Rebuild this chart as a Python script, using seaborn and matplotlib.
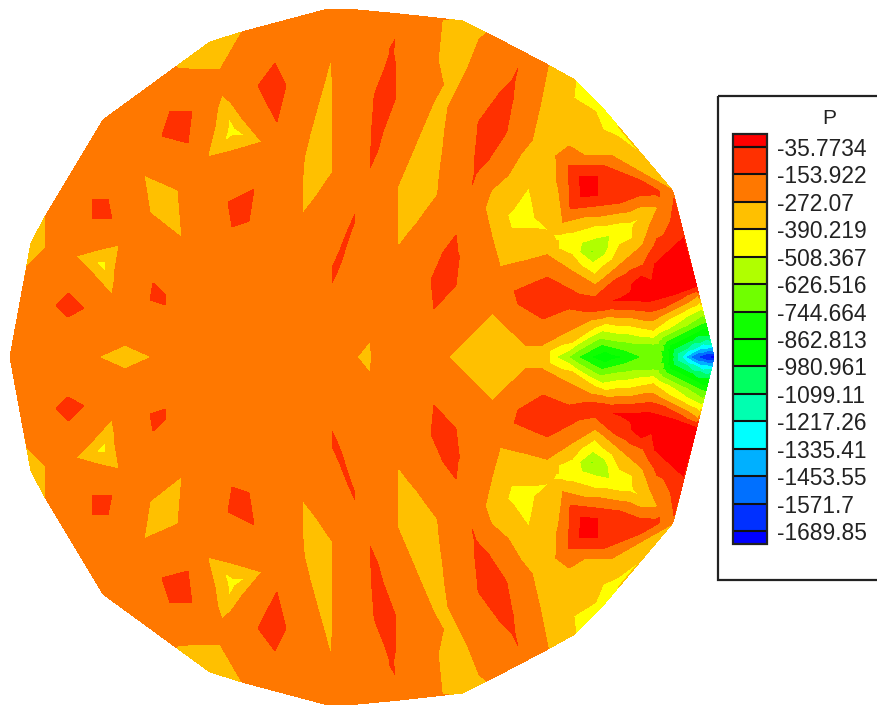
#!/usr/bin/env python3
# Pressure field P on a disk, filled contour bands with a boxed colour legend.
# Nodes are (x, y, P) for the upper half, the field is
# symmetric about y = 357 so the lower half is mirrored.

import matplotlib
matplotlib.use("Agg")
import matplotlib.pyplot as plt
from matplotlib.patches import Rectangle
from matplotlib.tri import Triangulation
import numpy as np
import seaborn as sns

# ── Legend ─────────────────────────────────────
tick_labels = ["-1689.85", "-1571.7", "-1453.55", "-1335.41", "-1217.26",
               "-1099.11", "-980.961", "-862.813", "-744.664", "-626.516",
               "-508.367", "-390.219", "-272.07", "-153.922", "-35.7734"]
levels = [float(t) for t in tick_labels]
band_colors = ["#0000ff", "#0030ff", "#0070ff", "#00b0ff", "#00ffff",
               "#00ffb0", "#00ff60", "#00ff00", "#10ff00", "#70ff00",
               "#b0ff00", "#ffff00", "#ffc000", "#ff7800", "#ff3000",
               "#ff0000"]

# ── Field nodes (x, y, P) ──────────────────────
rim = [(10, 357, -210), (27, 267, -210), (46, 215, -210), (103, 120, -210),
       (177, 68, -210), (242, 32, -210), (328, 9, -210), (358, 10, -210),
       (400, 14, -210), (442, 19, -210), (548, 65, -210), (673, 192, -210),
       (200, 357, -210), (280, 300, -210), (400, 300, -210)]

rim_amber_top = [(177, 68, -272), (210, 42, -300), (242, 32, -272),
                 (198, 70, -272), (220, 70, -272), (208, 58, -290)]
rim_amber_left = [(27, 267, -272), (31, 243, -300), (46, 215, -272),
                  (46, 248, -272), (38, 245, -290)]

red_a = [(170, 111, -154), (192, 111, -154), (188, 143, -154), (162, 136, -154),
         (178, 125, -110)]
red_b = [(275, 63, -154), (286, 86, -154), (277, 122, -154), (258, 86, -154),
         (272, 90, -110)]
red_c = [(92, 199, -154), (108, 199, -154), (112, 219, -154), (92, 219, -154),
         (101, 209, -110)]
red_d = [(254, 189, -154), (228, 202, -154), (232, 227, -154), (249, 221, -154),
         (241, 208, -110)]
red_e = [(68, 293, -154), (84, 308, -154), (68, 317, -154), (56, 306, -154),
         (69, 306, -110)]
red_f = [(153, 283, -154), (166, 295, -154), (166, 305, -154), (150, 300, -154),
         (159, 297, -120)]
red_g = [(456, 235, -154), (456, 285, -154), (434, 309, -154), (431, 280, -154),
         (447, 275, -110), (451, 255, -130), (440, 295, -130)]
red_h = [(395, 39, -154), (396, 68, -154), (396, 97, -154), (383, 132, -154),
         (378, 150, -154), (370, 168, -154), (371, 145, -154), (372, 123, -154),
         (374, 95, -154), (385, 67, -154), (392, 52, -150), (391, 68, -150),
         (385, 96, -150), (378, 127, -150), (374, 148, -150)]
red_i = [(518, 68, -154), (513, 100, -154), (507, 132, -154), (490, 158, -154),
         (472, 185, -154), (475, 153, -154), (478, 122, -154), (498, 95, -154),
         (514, 80, -150), (505, 97, -150), (492, 127, -150), (482, 155, -150),
         (476, 172, -150)]
red_j = [(363, 195, -154), (351, 232, -154), (345, 250, -154), (343, 257, -154),
         (338, 270, -154), (332, 283, -154), (332, 268, -154), (340, 250, -154),
         (347, 232, -154), (355, 214, -154), (353, 222, -150), (349, 232, -150),
         (342, 250, -150), (339, 260, -150), (335, 268, -150), (334, 276, -150)]

amber_a = [(144, 175, -272), (178, 190, -272), (182, 238, -272), (150, 213, -272),
           (165, 205, -300)]
amber_b = [(331, 59, -272), (333, 88, -272), (333, 108, -272), (333, 130, -272),
           (333, 150, -272), (333, 172, -272), (318, 194, -272), (302, 215, -272),
           (302, 188, -272), (303, 172, -272), (304, 158, -272), (310, 133, -272),
           (317, 108, -272), (325, 80, -272), (330, 68, -276), (329, 84, -276),
           (325, 108, -276), (322, 132, -276), (318, 154, -276), (318, 172, -276),
           (310, 191, -276), (304, 205, -276)]
amber_c = [(442, 19, -272), (438, 60, -272), (433, 103, -272), (424, 124, -272),
           (415, 145, -272), (406, 166, -272), (397, 187, -272), (397, 217, -272),
           (398, 247, -272), (418, 222, -272), (438, 195, -272), (440, 172, -272),
           (443, 150, -272), (445, 130, -272), (448, 108, -272), (467, 70, -272),
           (487, 33, -272), (463, 21, -290), (450, 25, -276), (478, 38, -276),
           (452, 45, -276), (452, 65, -276), (445, 85, -276), (440, 105, -276),
           (435, 127, -276), (429, 148, -276), (423, 169, -276), (417, 191, -276),
           (407, 220, -276), (403, 238, -276)]
amber_d = [(98, 357, -272), (125, 345, -272), (152, 357, -272), (125, 357, -300)]
amber_e = [(357, 357, -272), (370, 341, -272), (370, 357, -300), (373, 357, -250)]
amber_f = [(448, 357, -272), (492, 313, -272), (542, 345, -272), (497, 357, -300),
           (520, 357, -320), (540, 357, -345)]

tri_a = [(222, 95, -272), (242, 118, -272), (262, 142, -272), (235, 150, -272),
         (208, 157, -272), (215, 126, -272), (224, 106, -300), (252, 139, -300),
         (214, 152, -300),
         (229, 117, -389), (245, 135, -389), (224, 142, -389), (232, 131, -430)]
tri_b = [(76, 256, -272), (97, 250, -272), (119, 245, -272), (115, 270, -272),
         (114, 283, -272), (112, 295, -272), (103, 285, -272), (94, 275, -272),
         (83, 257, -300), (115, 251, -300), (109, 284, -300), (106, 278, -320),
         (96, 262, -389), (106, 261, -389), (106, 272, -389), (102, 265, -420)]

# upper right: amber field, yellow rim strip, red pocket, lime triangle
right_amber = [(548, 65, -271), (540, 105, -271), (532, 140, -271), (508, 175, -271),
               (485, 208, -271), (492, 238, -271), (500, 267, -271), (525, 261, -271),
               (547, 255, -271), (570, 270, -271), (595, 285, -271), (620, 265, -271),
               (643, 245, -271), (650, 225, -271), (658, 207, -271)]
right_amber_fill = [(555, 110, -340), (590, 120, -340), (540, 170, -340),
                    (510, 250, -340), (545, 245, -340), (530, 165, -340),
                    (550, 145, -340), (570, 135, -340), (550, 180, -340),
                    (500, 200, -340), (505, 240, -340)]
yellow_strip = [(575, 80, -389), (573, 98, -389), (603, 130, -389), (642, 155, -389),
                (600, 105, -430), (620, 130, -430), (560, 72, -340)]
yellow_tri = [(529, 186, -389), (550, 231, -389), (511, 229, -389), (507, 215, -389),
              (525, 215, -430)]
pocket = [(556, 156, -271), (585, 156, -271), (612, 156, -271), (640, 172, -271),
          (672, 190, -271), (559, 190, -271), (563, 222, -271), (600, 216, -271),
          (630, 211, -271)]
pocket_red = [(568, 165, -155), (603, 165, -155), (640, 180, -155), (673, 193, -155),
              (660, 197, -155), (620, 203, -155), (570, 209, -155), (569, 187, -155),
              (640, 190, -100), (655, 191, -120),
              (579, 176, -36), (588, 176, -36), (597, 176, -36), (598, 186, -36),
              (598, 195, -36), (590, 196, -36), (581, 197, -36), (580, 186, -36),
              (583, 180, -20), (593, 180, -20), (594, 191, -20), (585, 192, -20),
              (589, 186, -20)]
lime_tri = [(552, 234, -389), (597, 225, -389), (642, 217, -389), (620, 245, -389),
            (595, 275, -389), (572, 255, -389),
            (562, 237, -420), (630, 225, -420), (594, 268, -450),
            (570, 243, -507), (623, 232, -507), (593, 263, -507),
            (582, 243, -515), (609, 236, -515),
            (592, 252, -640), (587, 250, -626), (597, 250, -626)]

# lower red patch that runs to the rim
patch = [(514, 291, -155), (547, 277, -155), (595, 297, -155), (643, 265, -155),
         (674, 198, -155), (543, 319, -155), (587, 312, -155), (650, 312, -155),
         (697, 291, -155), (570, 298, -100), (530, 300, -100), (650, 307, -100),
         (670, 240, -100), (615, 285, -100), (660, 245, -100)]
patch_red = [(613, 301, -36), (632, 301, -36), (650, 302, -36), (675, 295, -36),
             (697, 287, -36), (683, 237, -36), (667, 252, -36), (655, 263, -36),
             (641, 276, -36), (632, 284, -36), (622, 299, -30), (632, 293, -30),
             (640, 288, -30), (652, 282, -30), (671, 274, -30), (690, 262, -30)]

# bands around the axis, one row per contour
band_272 = [(566, 332, -271), (590, 320, -271), (653, 320, -271), (698, 295, -271)]
band_390 = [(549, 357, -389), (572, 342, -389), (595, 327, -389), (653, 330, -389),
            (700, 302, -389)]
band_508 = [(556, 357, -507), (576, 345, -507), (597, 333, -507), (653, 337, -507),
            (702, 309, -507)]
band_626 = [(568, 357, -626), (584, 347, -626), (600, 338, -626), (653, 344, -626),
            (703, 315, -626)]
band_744 = [(578, 357, -744), (589, 351, -744), (600, 345, -744), (625, 350, -744),
            (642, 357, -744), (662, 357, -744), (705, 322, -744)]
band_862 = [(590, 357, -862), (605, 351, -862), (625, 357, -862), (668, 357, -862),
            (707, 328, -862)]
band_980 = [(673, 357, -980), (708, 335, -980)]
band_1099 = [(677, 357, -1099), (710, 340, -1099)]
band_1217 = [(681, 357, -1217), (711, 344, -1217)]
band_1335 = [(685, 357, -1335), (712, 347, -1335)]
band_1453 = [(690, 357, -1453), (712, 350, -1453)]
band_1571 = [(696, 357, -1571), (713, 353, -1571)]
band_tip = [(705, 357, -1689), (714, 357, -1760), (606, 357, -930), (650, 357, -680)]

node_groups = [rim, rim_amber_top, rim_amber_left,
               red_a, red_b, red_c, red_d, red_e, red_f, red_g, red_h, red_i, red_j,
               amber_a, amber_b, amber_c, amber_d, amber_e, amber_f, tri_a, tri_b,
               right_amber, right_amber_fill, yellow_strip, yellow_tri,
               pocket, pocket_red, lime_tri, patch, patch_red,
               band_272, band_390, band_508, band_626, band_744, band_862, band_980,
               band_1099, band_1217, band_1335, band_1453, band_1571, band_tip]

# later groups win where a node is listed twice
nodes = {}
for group in node_groups:
    for x, y, p in group:
        nodes[(x, y)] = p
        nodes[(x, 714 - y)] = p

xs = np.array([k[0] for k in nodes], dtype=float)
ys = np.array([k[1] for k in nodes], dtype=float)
ps = np.array(list(nodes.values()), dtype=float)

# ── Plot ───────────────────────────────────────
sns.set_theme(style="white")
plt.rcParams["font.family"] = ["Liberation Sans", "DejaVu Sans"]

fig = plt.figure(figsize=(8.78, 7.09), dpi=100)
ax = fig.add_axes([0, 0, 1, 1])
field = ax.tricontourf(Triangulation(xs, ys), ps, levels=levels,
                       colors=sns.color_palette(band_colors, as_cmap=False),
                       extend="both", antialiased=False)
ax.set_xlim(0, 878)
ax.set_ylim(709, 0)
ax.axis("off")

# legend frame runs off the right edge
ax.add_patch(Rectangle((718.5, 96), 200, 484, fill=False, ec="#222222", lw=1.6))
ax.text(829, 119, "P", ha="center", va="center", fontsize=15, color="#222222")

cax = fig.add_axes([733 / 878, 1 - 544 / 709, 34 / 878, 410 / 709])
cbar = fig.colorbar(field, cax=cax, extendfrac=0.033, extendrect=True,
                    drawedges=True, spacing="uniform")
cbar.set_ticks(levels, labels=tick_labels)
cbar.minorticks_off()
cbar.ax.tick_params(length=0, pad=7, labelsize=16.4, labelcolor="#222222")
cbar.outline.set_edgecolor("#222222")
cbar.outline.set_linewidth(1.6)
cbar.dividers.set_color("#111111")
cbar.dividers.set_linewidth(1.5)

fig.savefig("out.png", dpi=100)
plt.close(fig)
